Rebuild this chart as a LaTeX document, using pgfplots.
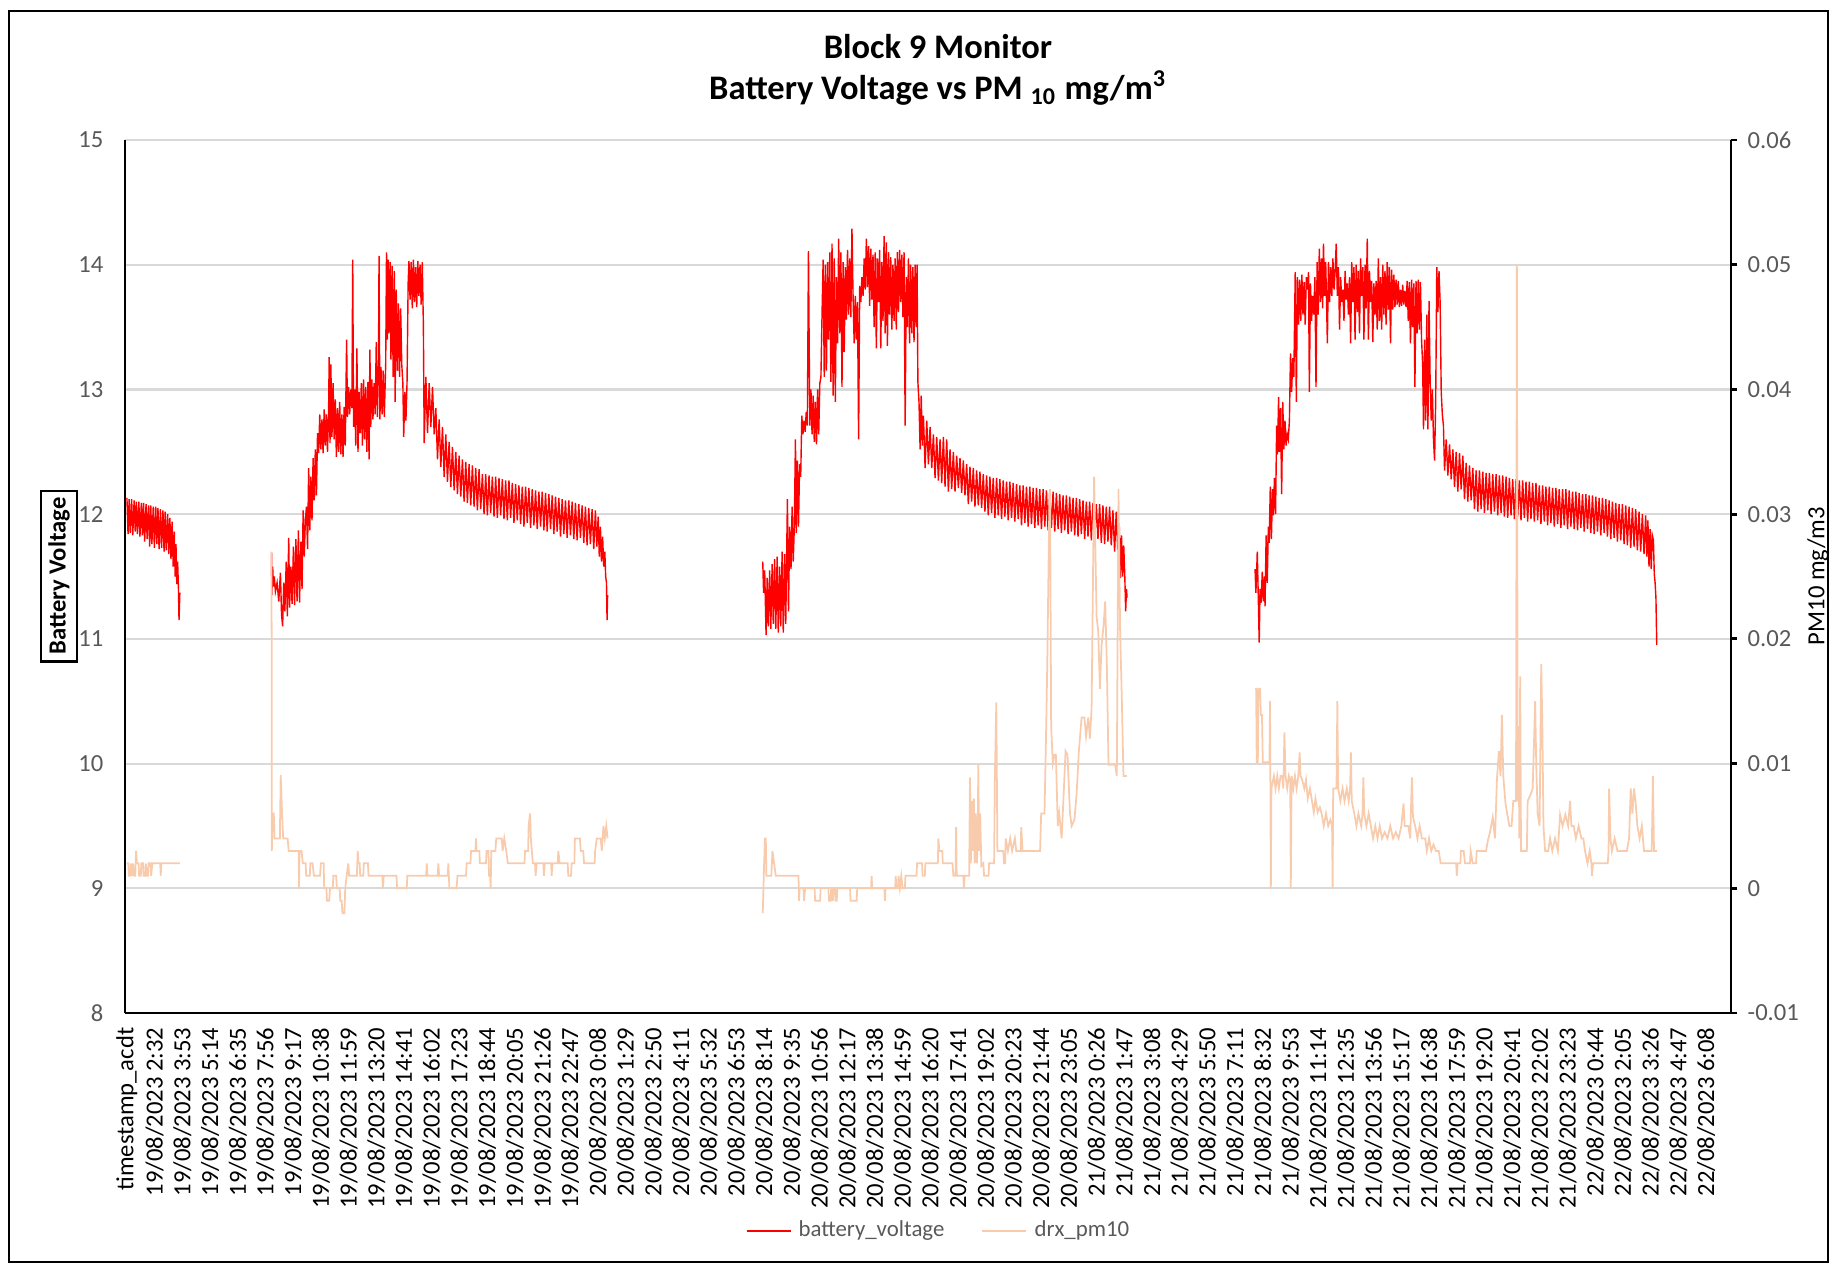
\documentclass[border=0pt]{standalone}
\usepackage{fontspec}
\setmainfont{Carlito}
\usepackage{pgfplots}
\pgfplotsset{compat=1.18}
\definecolor{voltred}{HTML}{FF0000}
\definecolor{pmcol}{HTML}{F8CBAD}
\definecolor{gridc}{HTML}{D9D9D9}
\definecolor{tickc}{HTML}{595959}

\pgfplotsset{
  chartbase/.style={
    width=16.06cm, height=8.73cm, scale only axis,
    at={(0,0)}, anchor=south west,
    xmin=-0.07, xmax=57.9,
    /pgf/number format/assume math mode=true,
  },
}

\begin{document}
\begin{tikzpicture}
\useasboundingbox (-1.25cm,-2.53cm) rectangle (17.11cm,10.13cm);
\draw[black, line width=0.6pt] (-1.156cm,-2.49cm) rectangle (17.03cm,10.02cm);

% title
\node[anchor=base, font=\fontsize{9.8}{12}\selectfont\bfseries] at (8.13cm,9.55cm) {Block 9 Monitor};
\node[anchor=base, font=\fontsize{9.8}{12}\selectfont\bfseries] at (8.13cm,9.14cm) {Battery Voltage vs PM \textsubscript{10} mg/m\textsuperscript{3}};
% axis titles
\node[draw=black, line width=0.6pt, rotate=90, inner sep=0.07cm, font=\fontsize{7}{8}\selectfont\bfseries] at (-0.66cm,4.37cm) {Battery Voltage};
\node[rotate=90, font=\fontsize{7}{8}\selectfont] at (16.93cm,4.37cm) {PM10 mg/m3};

\begin{axis}[chartbase,
  ymin=8, ymax=15, ytick={8,9,...,15},
  axis x line*=bottom, axis y line*=left,
  axis line style={black, line width=0.8pt},
  ymajorgrids, grid style={gridc, line width=0.6pt},
  major tick length=0pt,
  xtick={0,1,...,57},
  xticklabels={timestamp\_acdt,
    19/08/2023 2:32,19/08/2023 3:53,19/08/2023 5:14,19/08/2023 6:35,19/08/2023 7:56,19/08/2023 9:17,
    19/08/2023 10:38,19/08/2023 11:59,19/08/2023 13:20,19/08/2023 14:41,19/08/2023 16:02,19/08/2023 17:23,
    19/08/2023 18:44,19/08/2023 20:05,19/08/2023 21:26,19/08/2023 22:47,
    20/08/2023 0:08,20/08/2023 1:29,20/08/2023 2:50,20/08/2023 4:11,20/08/2023 5:32,20/08/2023 6:53,
    20/08/2023 8:14,20/08/2023 9:35,20/08/2023 10:56,20/08/2023 12:17,20/08/2023 13:38,20/08/2023 14:59,
    20/08/2023 16:20,20/08/2023 17:41,20/08/2023 19:02,20/08/2023 20:23,20/08/2023 21:44,20/08/2023 23:05,
    21/08/2023 0:26,21/08/2023 1:47,21/08/2023 3:08,21/08/2023 4:29,21/08/2023 5:50,21/08/2023 7:11,
    21/08/2023 8:32,21/08/2023 9:53,21/08/2023 11:14,21/08/2023 12:35,21/08/2023 13:56,21/08/2023 15:17,
    21/08/2023 16:38,21/08/2023 17:59,21/08/2023 19:20,21/08/2023 20:41,21/08/2023 22:02,21/08/2023 23:23,
    22/08/2023 0:44,22/08/2023 2:05,22/08/2023 3:26,22/08/2023 4:47,22/08/2023 6:08},
  x tick label style={rotate=90, anchor=east, inner sep=0.14cm, font=\fontsize{7}{8}\selectfont, text=black},
  y tick label style={anchor=east, inner sep=0pt, xshift=-0.21cm, font=\fontsize{7}{8}\selectfont, text=tickc},
]
% battery voltage, day 1 tail
\addplot[voltred, line width=0.4pt, forget plot] table {
0.00 12.13
0.04 11.84
0.08 12.12
0.12 11.85
0.17 12.12
0.21 11.83
0.26 12.11
0.30 11.86
0.34 12.10
0.38 11.84
0.43 12.10
0.47 11.82
0.52 12.09
0.56 11.83
0.60 12.09
0.64 11.78
0.69 12.08
0.73 11.80
0.78 12.07
0.82 11.74
0.86 12.07
0.90 11.76
0.95 12.06
0.99 11.73
1.04 12.06
1.08 11.76
1.12 12.05
1.16 11.72
1.21 12.04
1.25 11.73
1.30 12.03
1.34 11.70
1.38 12.02
1.42 11.71
1.47 12.00
1.51 11.68
1.55 11.97
1.59 11.64
1.63 11.94
1.67 11.58
1.71 11.86
1.74 11.50
1.77 11.76
1.80 11.44
1.83 11.62
1.86 11.40
1.88 11.15
1.91 11.37
};
% battery voltage, 19/08 cycle
\addplot[voltred, line width=0.4pt, forget plot] table {
5.22 11.69
5.23 11.35
5.26 11.58
5.29 11.42
5.32 11.50
5.36 11.38
5.42 11.45
5.48 11.30
5.54 11.53
5.58 11.20
5.62 11.10
5.66 11.45
5.70 11.22
5.75 11.62
5.79 11.18
5.84 11.81
5.87 11.25
5.92 11.58
5.96 11.28
6.01 11.74
6.05 11.27
6.10 11.80
6.14 11.30
6.19 11.87
6.23 11.29
6.28 11.78
6.32 11.40
6.36 12.03
6.40 11.66
6.44 11.95
6.48 12.06
6.52 11.72
6.56 12.37
6.60 11.87
6.64 12.30
6.68 11.95
6.72 12.45
6.76 12.11
6.80 12.52
6.84 12.15
6.88 12.65
6.92 12.49
6.96 12.80
7.00 12.52
7.04 12.76
7.08 12.49
7.12 12.84
7.16 12.55
7.20 12.80
7.24 12.50
7.28 12.83
7.30 13.26
7.33 12.57
7.36 13.20
7.40 12.62
7.44 13.05
7.48 12.60
7.52 12.92
7.56 12.46
7.60 12.85
7.64 12.50
7.68 12.90
7.72 12.48
7.76 12.80
7.80 12.46
7.84 12.86
7.88 12.55
7.93 13.40
7.96 12.78
8.00 13.02
8.04 12.80
8.08 13.00
8.12 12.85
8.15 14.04
8.18 12.70
8.22 13.00
8.26 12.55
8.30 13.33
8.34 12.50
8.38 12.98
8.42 12.65
8.46 13.05
8.50 12.55
8.54 13.08
8.58 12.60
8.62 13.02
8.66 12.50
8.70 13.06
8.74 12.44
8.77 13.32
8.80 12.70
8.84 13.08
8.88 12.76
8.92 13.05
8.96 12.80
9.00 13.38
9.04 12.78
9.08 13.20
9.10 14.07
9.13 12.76
9.17 13.18
9.21 12.80
9.25 13.15
9.29 12.78
9.34 13.20
9.37 14.10
9.40 13.40
9.43 14.04
9.46 13.45
9.50 14.02
9.53 13.24
9.57 13.99
9.61 13.10
9.65 13.95
9.68 12.90
9.72 13.80
9.76 13.15
9.80 13.69
9.84 13.10
9.88 13.65
9.92 13.20
9.96 13.05
9.99 12.62
10.03 12.98
10.07 12.75
10.11 13.05
10.15 13.85
10.18 14.03
10.22 13.72
10.26 14.02
10.30 13.65
10.34 14.04
10.38 13.70
10.42 13.98
10.46 13.66
10.50 14.03
10.54 13.75
10.58 14.00
10.62 13.68
10.66 14.02
10.70 13.52
10.73 12.57
10.79 13.10
10.85 12.65
10.91 13.05
10.97 12.70
11.03 13.02
11.09 12.64
11.15 12.85
11.21 12.44
11.27 12.76
11.33 12.38
11.39 12.70
11.45 12.30
11.51 12.64
11.57 12.26
11.63 12.58
11.69 12.22
11.75 12.54
11.81 12.19
11.87 12.50
11.93 12.16
11.99 12.47
12.05 12.14
12.11 12.44
12.17 12.10
12.23 12.42
12.29 12.09
12.35 12.40
12.41 12.07
12.47 12.39
12.53 12.06
12.59 12.37
12.65 12.03
12.71 12.36
12.77 12.04
12.83 12.32
12.89 12.00
12.95 12.32
13.01 11.99
13.07 12.31
13.13 12.01
13.19 12.30
13.25 11.98
13.31 12.30
13.37 11.97
13.43 12.29
13.49 11.99
13.55 12.28
13.61 11.96
13.67 12.27
13.73 11.95
13.79 12.27
13.85 11.97
13.91 12.25
13.97 11.93
14.03 12.24
14.09 11.95
14.15 12.23
14.21 11.92
14.27 12.22
14.33 11.90
14.39 12.22
14.45 11.93
14.51 12.21
14.57 11.89
14.63 12.20
14.69 11.91
14.75 12.19
14.81 11.88
14.87 12.18
14.93 11.90
14.99 12.18
15.05 11.87
15.11 12.17
15.17 11.86
15.23 12.16
15.29 11.88
15.35 12.15
15.41 11.84
15.47 12.14
15.53 11.86
15.59 12.13
15.65 11.82
15.71 12.12
15.77 11.84
15.83 12.11
15.89 11.81
15.95 12.11
16.01 11.83
16.07 12.10
16.13 11.80
16.19 12.09
16.25 11.79
16.31 12.08
16.37 11.81
16.43 12.07
16.49 11.77
16.55 12.06
16.61 11.75
16.67 12.05
16.73 11.76
16.79 12.04
16.85 11.72
16.91 12.03
16.96 11.74
17.01 11.98
17.05 11.66
17.09 11.90
17.13 11.62
17.17 11.82
17.21 11.58
17.25 11.70
17.28 11.50
17.31 11.45
17.33 11.15
17.35 11.35
};
% battery voltage, 20/08 cycle
\addplot[voltred, line width=0.4pt, forget plot] table {
22.95 11.62
22.98 11.37
23.02 11.55
23.07 11.03
23.11 11.49
23.15 11.10
23.20 11.55
23.24 11.08
23.29 11.60
23.33 11.12
23.38 11.64
23.42 11.08
23.47 11.66
23.51 11.05
23.56 11.58
23.60 11.10
23.65 11.70
23.69 11.05
23.74 11.68
23.78 11.12
23.84 12.12
23.88 11.22
23.92 11.90
23.97 11.56
24.01 12.06
24.05 11.62
24.09 11.90
24.13 12.60
24.16 11.85
24.20 12.43
24.24 11.90
24.28 12.40
24.32 12.30
24.36 12.79
24.40 12.64
24.44 12.75
24.48 12.66
24.52 12.82
24.56 12.71
24.60 14.11
24.62 13.52
24.65 12.71
24.69 13.00
24.73 12.64
24.77 12.95
24.81 12.58
24.85 12.90
24.89 12.56
24.93 13.00
24.97 12.64
25.01 13.05
25.05 13.10
25.09 13.60
25.13 14.04
25.17 13.10
25.21 14.00
25.25 13.15
25.29 14.02
25.33 13.40
25.37 14.10
25.41 13.06
25.45 14.17
25.49 12.95
25.53 14.05
25.57 12.90
25.61 13.90
25.65 13.37
25.69 14.21
25.73 13.45
25.77 14.10
25.81 13.02
25.85 14.02
25.89 13.30
25.93 13.98
25.97 13.56
26.01 14.12
26.05 13.60
26.09 14.05
26.13 13.58
26.17 14.29
26.21 13.75
26.25 13.37
26.29 13.75
26.33 13.40
26.37 13.70
26.41 12.60
26.45 13.83
26.49 13.70
26.53 13.90
26.57 13.75
26.61 14.05
26.65 13.80
26.69 14.21
26.73 13.82
26.77 14.15
26.81 13.67
26.85 14.13
26.89 13.72
26.93 14.08
26.97 13.50
27.01 14.10
27.05 13.33
27.09 14.05
27.13 13.70
27.17 14.12
27.21 13.33
27.25 14.02
27.29 13.55
27.33 14.23
27.37 13.45
27.41 14.18
27.45 13.35
27.49 14.10
27.53 13.60
27.57 14.06
27.61 13.48
27.65 14.00
27.69 13.55
27.73 14.05
27.77 13.48
27.81 14.10
27.85 13.62
27.89 14.12
27.93 13.70
27.97 14.08
28.01 13.58
28.05 14.10
28.09 12.71
28.13 13.90
28.17 13.50
28.21 14.05
28.25 13.37
28.29 14.00
28.33 13.45
28.37 13.98
28.41 13.38
28.45 14.00
28.49 13.50
28.52 14.00
28.55 13.06
28.59 12.90
28.63 12.52
28.67 12.95
28.71 12.55
28.75 12.79
28.81 12.37
28.87 12.75
28.93 12.40
28.99 12.70
29.05 12.37
29.11 12.64
29.17 12.29
29.23 12.62
29.29 12.27
29.35 12.60
29.41 12.25
29.47 12.62
29.53 12.22
29.59 12.60
29.65 12.18
29.71 12.52
29.77 12.20
29.83 12.50
29.89 12.18
29.95 12.47
30.01 12.21
30.07 12.45
30.13 12.17
30.19 12.43
30.25 12.15
30.31 12.40
30.37 12.08
30.43 12.38
30.49 12.10
30.55 12.37
30.61 12.06
30.67 12.35
30.73 12.07
30.79 12.34
30.85 12.05
30.91 12.32
30.97 12.02
31.03 12.31
31.09 11.99
31.15 12.30
31.21 12.01
31.27 12.29
31.33 11.97
31.39 12.29
31.45 11.99
31.51 12.28
31.57 11.96
31.63 12.27
31.69 11.98
31.75 12.26
31.81 11.95
31.87 12.26
31.93 11.97
31.99 12.25
32.05 11.94
32.11 12.24
32.17 11.96
32.23 12.23
32.29 11.91
32.35 12.23
32.41 11.93
32.47 12.22
32.53 11.90
32.59 12.22
32.65 11.92
32.71 12.21
32.77 11.89
32.83 12.21
32.89 11.91
32.95 12.20
33.01 11.88
33.07 12.20
33.13 11.90
33.19 12.19
33.25 11.87
33.31 12.18
33.37 11.89
33.43 12.18
33.49 11.86
33.55 12.17
33.61 11.88
33.67 12.16
33.73 11.85
33.79 12.15
33.85 11.87
33.91 12.15
33.97 11.84
34.03 12.14
34.09 11.86
34.15 12.13
34.21 11.83
34.27 12.13
34.33 11.82
34.39 12.12
34.45 11.84
34.51 12.11
34.57 11.80
34.63 12.10
34.69 11.82
34.75 12.10
34.81 11.79
34.87 12.09
34.93 11.78
34.99 12.08
35.05 11.80
35.11 12.08
35.17 11.77
35.23 12.07
35.29 11.76
35.35 12.06
35.41 11.78
35.47 12.06
35.53 11.75
35.59 12.03
35.65 11.70
35.71 12.02
35.77 11.68
35.82 11.90
35.86 11.49
35.90 11.83
35.94 11.50
35.98 11.75
36.02 11.49
36.05 11.22
36.08 11.40
36.10 11.33
};
% battery voltage, 21/08 cycle
\addplot[voltred, line width=0.4pt, forget plot] table {
40.72 11.56
40.75 11.37
40.78 11.55
40.80 11.70
40.84 11.30
40.87 10.97
40.90 11.40
40.94 11.29
40.98 11.54
41.02 11.30
41.06 11.50
41.08 11.26
41.12 11.83
41.16 11.45
41.20 11.90
41.23 11.77
41.27 12.22
41.31 11.80
41.35 12.20
41.38 11.99
41.42 12.29
41.46 12.00
41.50 12.71
41.53 12.48
41.57 12.94
41.60 12.50
41.64 12.85
41.68 12.16
41.72 12.90
41.76 12.52
41.80 12.75
41.84 12.55
41.88 12.64
41.92 12.60
41.96 12.75
42.00 13.29
42.04 12.98
42.08 13.25
42.12 13.10
42.17 13.94
42.21 12.90
42.25 13.90
42.29 13.52
42.33 13.88
42.37 13.55
42.41 13.92
42.45 13.60
42.49 13.86
42.53 13.52
42.57 13.90
42.61 13.80
42.65 13.94
42.68 12.98
42.72 13.85
42.76 13.55
42.80 13.75
42.84 13.60
42.88 13.90
42.92 13.02
42.96 14.02
43.00 13.60
43.04 14.13
43.08 13.70
43.12 14.05
43.16 13.65
43.19 14.17
43.23 13.75
43.27 14.02
43.31 13.60
43.33 13.37
43.37 14.02
43.41 13.70
43.45 13.98
43.49 13.75
43.53 14.05
43.57 13.80
43.61 13.95
43.65 14.17
43.69 13.75
43.73 13.98
43.77 13.48
43.81 13.90
43.85 13.70
43.89 13.80
43.93 13.55
43.97 13.95
44.01 13.72
44.05 13.85
44.09 13.60
44.13 13.90
44.17 13.37
44.21 14.02
44.25 13.70
44.29 13.98
44.33 13.40
44.37 14.00
44.41 13.62
44.45 13.95
44.49 13.45
44.53 14.05
44.57 13.75
44.61 13.98
44.65 13.40
44.69 14.00
44.73 13.65
44.77 14.21
44.81 13.40
44.85 13.95
44.89 13.70
44.93 13.87
44.97 13.38
45.01 13.85
45.05 13.60
45.09 13.87
45.13 13.48
45.17 14.05
45.21 13.55
45.25 13.90
45.29 13.48
45.33 14.00
45.37 13.60
45.41 13.95
45.45 13.52
45.49 14.02
45.53 13.64
45.57 13.98
45.61 13.37
45.65 13.96
45.69 13.64
45.73 13.92
45.77 13.66
45.81 13.88
45.85 13.68
45.89 13.87
45.93 13.66
45.97 13.80
46.01 13.67
46.05 13.84
46.09 13.68
46.13 13.79
46.17 13.66
46.21 13.87
46.25 13.55
46.29 13.86
46.33 13.37
46.37 13.88
46.41 13.50
46.45 13.85
46.49 13.02
46.53 13.87
46.57 13.45
46.61 13.88
46.65 13.48
46.69 13.86
46.73 13.40
46.77 13.20
46.80 12.68
46.84 13.40
46.88 12.75
46.92 13.60
46.96 12.68
47.00 13.71
47.04 13.06
47.08 12.75
47.12 13.00
47.16 12.60
47.20 12.43
47.24 12.90
47.28 13.98
47.32 13.62
47.36 13.95
47.40 13.70
47.44 12.98
47.48 12.80
47.52 12.71
47.56 12.35
47.62 12.60
47.68 12.31
47.74 12.56
47.80 12.28
47.86 12.52
47.92 12.22
47.98 12.50
48.04 12.18
48.10 12.49
48.16 12.20
48.22 12.47
48.28 12.12
48.34 12.41
48.40 12.10
48.46 12.39
48.52 12.11
48.58 12.37
48.64 12.04
48.70 12.35
48.76 12.02
48.82 12.35
48.88 12.04
48.94 12.34
49.00 12.01
49.06 12.33
49.12 12.03
49.18 12.33
49.24 12.00
49.30 12.32
49.36 12.02
49.42 12.32
49.48 11.99
49.54 12.31
49.60 12.01
49.66 12.31
49.72 11.98
49.78 12.30
49.84 11.97
49.90 12.29
49.96 11.99
50.02 12.28
50.08 11.96
50.14 12.28
50.20 11.98
50.26 12.27
50.32 11.95
50.38 12.27
50.44 11.97
50.50 12.26
50.56 11.94
50.62 12.26
50.68 11.96
50.74 12.25
50.80 11.94
50.86 12.25
50.92 11.95
50.98 12.23
51.04 11.92
51.10 12.23
51.16 11.94
51.22 12.22
51.28 11.91
51.34 12.22
51.40 11.93
51.46 12.21
51.52 11.90
51.58 12.21
51.64 11.92
51.70 12.20
51.76 11.89
51.82 12.20
51.88 11.91
51.94 12.20
52.00 11.88
52.06 12.19
52.12 11.90
52.18 12.18
52.24 11.88
52.30 12.18
52.36 11.87
52.42 12.17
52.48 11.89
52.54 12.16
52.60 11.86
52.66 12.16
52.72 11.88
52.78 12.15
52.84 11.85
52.90 12.15
52.96 11.84
53.02 12.14
53.08 11.86
53.14 12.13
53.20 11.83
53.26 12.13
53.32 11.85
53.38 12.12
53.44 11.82
53.50 12.11
53.56 11.80
53.62 12.10
53.68 11.81
53.74 12.09
53.80 11.78
53.86 12.08
53.92 11.79
53.98 12.08
54.04 11.76
54.10 12.07
54.16 11.75
54.22 12.06
54.28 11.73
54.34 12.05
54.40 11.74
54.46 12.04
54.52 11.71
54.58 12.02
54.64 11.70
54.70 12.00
54.76 11.68
54.82 11.99
54.86 11.66
54.90 11.95
54.94 11.58
54.98 11.88
55.02 11.56
55.06 11.83
55.10 11.79
55.13 11.52
55.16 11.45
55.19 11.33
55.22 10.95
};
\end{axis}

\begin{axis}[chartbase,
  ymin=-0.01, ymax=0.06,
  scaled y ticks=false,
  ytick={-0.01,0,0.01,0.02,0.03,0.04,0.05,0.06},
  yticklabels={-0.01,0,0.01,0.02,0.03,0.04,0.05,0.06},
  axis x line=none, axis y line*=right,
  axis line style={black, line width=0.8pt},
  tick align=outside, major tick length=0.06cm,
  ytick style={black, line width=0.8pt},
  y tick label style={anchor=west, inner sep=0pt, xshift=0.1cm, font=\fontsize{7}{8}\selectfont, text=tickc},
  legend style={at={(0.508,-0.25)}, anchor=center, draw=none, fill=none,
    legend columns=2, font=\fontsize{6.5}{8}\selectfont, text=tickc,
    /tikz/every even column/.append style={column sep=0.3cm}},
  legend image code/.code={\draw[#1] (0cm,0cm) -- (0.44cm,0cm);},
]
\addlegendimage{voltred, line width=0.6pt}
\addlegendentry{battery\_voltage}
\addlegendimage{pmcol, line width=0.6pt}
\addlegendentry{drx\_pm10}
% drx_pm10
\addplot[pmcol, line width=0.5pt, forget plot] table {
0.00 0.002
0.05 0.002
0.07 0.001
0.12 0.001
0.14 0.002
0.18 0.001
0.22 0.002
0.26 0.001
0.30 0.001
0.33 0.003
0.36 0.002
0.42 0.002
0.44 0.001
0.50 0.001
0.52 0.002
0.58 0.002
0.60 0.001
0.66 0.001
0.68 0.002
0.72 0.001
0.76 0.001
0.78 0.002
0.85 0.002
0.87 0.001
0.92 0.002
1.05 0.002
1.20 0.002
1.22 0.001
1.24 0.002
1.91 0.002
};
\addplot[pmcol, line width=0.5pt, forget plot] table {
5.22 0.027
5.23 0.003
5.26 0.006
5.30 0.006
5.33 0.004
5.52 0.004
5.55 0.0091
5.60 0.006
5.64 0.004
5.80 0.004
5.84 0.003
6.20 0.003
6.21 0.0
6.23 0.003
6.30 0.003
6.35 0.002
6.45 0.002
6.47 0.001
6.60 0.001
6.62 0.002
6.70 0.002
6.75 0.001
6.97 0.001
7.00 0.002
7.10 0.002
7.12 0.0
7.20 0.0
7.22 -0.001
7.30 -0.001
7.33 0.0
7.43 0.0
7.45 0.001
7.55 0.001
7.58 0.0
7.68 0.0
7.70 -0.001
7.75 -0.001
7.78 -0.002
7.85 -0.002
7.88 0.0
7.93 0.001
7.99 0.002
8.02 0.001
8.30 0.001
8.33 0.003
8.36 0.002
8.40 0.002
8.42 0.001
8.53 0.001
8.55 0.002
8.70 0.002
8.72 0.001
9.22 0.001
9.24 0.0
9.27 0.001
9.73 0.001
9.75 0.0
10.10 0.0
10.12 0.001
10.80 0.001
10.82 0.002
10.85 0.001
11.22 0.001
11.24 0.002
11.27 0.001
11.58 0.001
11.60 0.002
11.62 0.001
11.64 0.0
11.90 0.0
11.93 0.001
12.24 0.001
12.26 0.002
12.40 0.002
12.42 0.003
12.58 0.003
12.60 0.004
12.62 0.003
12.72 0.003
12.74 0.002
12.96 0.002
12.98 0.003
13.05 0.003
13.07 0.001
13.11 0.001
13.13 0.0
13.15 0.003
13.30 0.003
13.33 0.004
13.53 0.004
13.56 0.003
13.62 0.004
13.69 0.003
13.75 0.002
14.35 0.002
14.37 0.003
14.48 0.003
14.50 0.005
14.55 0.006
14.58 0.004
14.65 0.002
14.73 0.002
14.75 0.001
14.79 0.002
15.03 0.002
15.05 0.001
15.08 0.002
15.31 0.002
15.33 0.001
15.36 0.002
15.55 0.002
15.57 0.003
15.62 0.002
15.91 0.002
15.93 0.001
16.03 0.001
16.05 0.002
16.15 0.002
16.17 0.004
16.35 0.004
16.38 0.003
16.47 0.003
16.50 0.002
16.88 0.002
16.90 0.003
16.96 0.004
17.10 0.004
17.14 0.003
17.20 0.005
17.25 0.004
17.30 0.005
17.35 0.004
};
\addplot[pmcol, line width=0.5pt, forget plot] table {
22.95 -0.002
23.00 0.002
23.03 0.004
23.06 0.004
23.08 0.001
23.26 0.001
23.30 0.003
23.36 0.002
23.42 0.001
24.24 0.001
24.26 -0.001
24.28 0.0
24.42 0.0
24.44 -0.001
24.48 0.0
24.82 0.0
24.84 -0.001
25.02 -0.001
25.04 0.0
25.32 0.0
25.34 -0.001
25.40 -0.001
25.42 0.0
25.46 0.0
25.48 -0.001
25.52 0.0
25.56 0.0
25.58 -0.001
25.62 -0.001
25.64 0.0
26.10 0.0
26.12 -0.001
26.34 -0.001
26.36 0.0
26.86 0.0
26.88 0.001
26.90 0.0
27.34 0.0
27.36 -0.001
27.38 0.0
27.73 0.0
27.75 0.001
27.77 0.0
27.83 0.0
27.85 0.001
27.90 0.0
27.95 0.001
28.00 0.0
28.08 0.0
28.10 0.001
28.50 0.001
28.52 0.002
28.70 0.002
28.72 0.001
28.80 0.001
28.82 0.002
29.27 0.002
29.29 0.004
29.32 0.003
29.43 0.003
29.45 0.002
29.80 0.002
29.83 0.001
29.91 0.001
29.93 0.0049
29.95 0.001
30.19 0.001
30.21 0.0
30.24 0.001
30.40 0.001
30.43 0.0089
30.46 0.002
30.50 0.007
30.53 0.003
30.57 0.0072
30.60 0.002
30.64 0.006
30.68 0.002
30.71 0.004
30.73 0.0099
30.76 0.003
30.80 0.006
30.84 0.0018
30.91 0.002
30.94 0.001
31.10 0.001
31.12 0.002
31.30 0.002
31.33 0.009
31.38 0.0149
31.42 0.003
31.63 0.003
31.66 0.002
31.70 0.002
31.72 0.004
31.80 0.003
31.88 0.004
31.95 0.003
32.05 0.004
32.10 0.003
32.26 0.003
32.28 0.0049
32.33 0.003
32.96 0.003
33.00 0.006
33.12 0.006
33.18 0.0128
33.22 0.018
33.29 0.030
33.32 0.032
33.36 0.013
33.42 0.010
33.48 0.0107
33.53 0.0107
33.60 0.005
33.65 0.006
33.74 0.004
33.80 0.007
33.88 0.011
33.95 0.0107
34.04 0.006
34.10 0.005
34.20 0.0055
34.28 0.0076
34.36 0.011
34.46 0.0137
34.56 0.0137
34.62 0.0122
34.70 0.0137
34.76 0.012
34.82 0.0145
34.91 0.033
35.00 0.0218
35.06 0.0206
35.12 0.016
35.18 0.0195
35.25 0.021
35.31 0.023
35.37 0.018
35.43 0.0099
35.67 0.0099
35.73 0.009
35.79 0.032
35.85 0.0206
35.91 0.0153
35.97 0.009
36.09 0.009
};
\addplot[pmcol, line width=0.5pt, forget plot] table {
40.72 0.016
40.76 0.016
40.78 0.0101
40.82 0.0101
40.84 0.016
40.90 0.016
40.93 0.0139
40.97 0.0139
41.00 0.0101
41.24 0.0101
41.26 0.015
41.29 0.0
41.31 0.008
41.40 0.009
41.46 0.008
41.52 0.009
41.58 0.008
41.64 0.009
41.70 0.009
41.74 0.008
41.78 0.0125
41.82 0.009
41.88 0.008
41.94 0.009
41.99 0.0085
42.01 0.0
42.04 0.009
42.10 0.008
42.16 0.009
42.22 0.008
42.28 0.009
42.33 0.0109
42.36 0.009
42.42 0.0087
42.50 0.008
42.56 0.0087
42.62 0.0072
42.70 0.008
42.76 0.0072
42.84 0.0061
42.90 0.0072
42.98 0.0061
43.06 0.0065
43.12 0.006
43.20 0.005
43.28 0.006
43.36 0.005
43.44 0.0055
43.50 0.005
43.52 0.0
43.54 0.008
43.66 0.008
43.69 0.015
43.72 0.008
43.80 0.007
43.88 0.008
43.95 0.007
44.03 0.008
44.10 0.007
44.15 0.008
44.18 0.0109
44.21 0.007
44.30 0.006
44.38 0.005
44.45 0.006
44.55 0.005
44.60 0.006
44.63 0.0089
44.66 0.006
44.74 0.005
44.82 0.006
44.90 0.005
44.98 0.004
45.06 0.005
45.14 0.004
45.22 0.005
45.30 0.004
45.40 0.0045
45.50 0.004
45.60 0.005
45.70 0.004
45.80 0.0045
45.90 0.004
46.00 0.005
46.08 0.0068
46.12 0.005
46.25 0.005
46.32 0.004
46.38 0.0089
46.42 0.0057
46.50 0.005
46.58 0.004
46.66 0.005
46.74 0.004
46.86 0.004
46.92 0.003
47.00 0.004
47.08 0.003
47.16 0.0035
47.25 0.003
47.35 0.003
47.42 0.002
47.98 0.002
48.00 0.001
48.03 0.002
48.13 0.002
48.15 0.003
48.25 0.003
48.30 0.002
48.48 0.002
48.50 0.003
48.58 0.002
48.70 0.002
48.72 0.003
49.06 0.003
49.12 0.0038
49.20 0.0045
49.30 0.0057
49.38 0.004
49.45 0.0087
49.52 0.011
49.58 0.009
49.63 0.0139
49.68 0.009
49.76 0.0068
49.82 0.006
49.90 0.005
49.98 0.005
50.04 0.007
50.14 0.007
50.17 0.050
50.20 0.007
50.23 0.013
50.26 0.004
50.29 0.017
50.32 0.003
50.53 0.003
50.56 0.007
50.66 0.0075
50.74 0.008
50.79 0.0118
50.83 0.015
50.87 0.0099
50.92 0.006
50.99 0.005
51.05 0.018
51.09 0.013
51.13 0.005
51.19 0.003
51.30 0.003
51.37 0.004
51.45 0.003
51.55 0.004
51.65 0.003
51.73 0.0059
51.82 0.005
51.92 0.0059
52.02 0.005
52.09 0.007
52.14 0.005
52.22 0.005
52.30 0.004
52.40 0.005
52.50 0.004
52.57 0.004
52.63 0.003
52.72 0.002
52.80 0.003
52.86 0.002
52.88 0.001
52.92 0.002
53.45 0.002
53.48 0.003
53.50 0.008
53.55 0.004
53.60 0.003
53.70 0.004
53.80 0.003
54.14 0.003
54.22 0.004
54.28 0.008
54.34 0.006
54.40 0.008
54.46 0.0068
54.52 0.005
54.60 0.004
54.68 0.005
54.76 0.003
55.04 0.003
55.08 0.009
55.12 0.003
55.22 0.003
};
\end{axis}
\end{tikzpicture}
\end{document}
